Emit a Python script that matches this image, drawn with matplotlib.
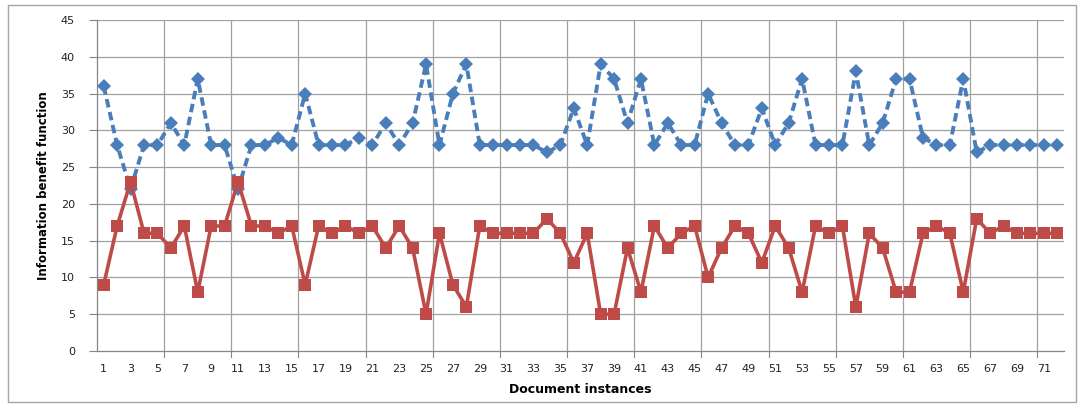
import matplotlib.pyplot as plt
from matplotlib.patches import Rectangle
import numpy as np

# values
instances = list(range(1, 73))
blue_vals = [36, 28, 22, 28, 28, 31, 28, 37, 28, 28,
             22, 28, 28, 29, 28, 35, 28, 28, 28, 29,
             28, 31, 28, 31, 39, 28, 35, 39, 28, 28,
             28, 28, 28, 27, 28, 33, 28, 39, 37, 31,
             37, 28, 31, 28, 28, 35, 31, 28, 28, 33,
             28, 31, 37, 28, 28, 28, 38, 28, 31, 37,
             37, 29, 28, 28, 37, 27, 28, 28, 28, 28,
             28, 28]
red_vals = [9, 17, 23, 16, 16, 14, 17, 8, 17, 17,
            23, 17, 17, 16, 17, 9, 17, 16, 17, 16,
            17, 14, 17, 14, 5, 16, 9, 6, 17, 16,
            16, 16, 16, 18, 16, 12, 16, 5, 5, 14,
            8, 17, 14, 16, 17, 10, 14, 17, 16, 12,
            17, 14, 8, 17, 16, 17, 6, 16, 14, 8,
            8, 16, 17, 16, 8, 18, 16, 17, 16, 16,
            16, 16]
y_ticks = list(range(0, 50, 5))
x_labels = list(range(1, 73, 2))

fig = plt.figure(figsize=(10.81, 4.07), dpi=100)
fig.patches.append(Rectangle((8 / 1081, 5 / 407), 1068 / 1081, 397 / 407,
                             transform=fig.transFigure, fill=False,
                             edgecolor='#a6a6a6', linewidth=1))

ax = fig.add_axes([97 / 1081, 56 / 407, 967 / 1081, 331 / 407])

ax.plot(instances, blue_vals, color='#4a7ebb', linestyle=(0, (2.2, 1.2)), linewidth=2.8,
        marker='D', markersize=7, markeredgewidth=0, zorder=3)
ax.plot(instances, red_vals, color='#be4b48', linestyle='-', linewidth=2.6,
        marker='s', markersize=8.5, markeredgewidth=0, zorder=4)

ax.set_xlim(0.5, 72.5)
ax.set_ylim(0, 45)
ax.set_yticks(y_ticks)
ax.set_yticklabels([str(v) for v in y_ticks], fontsize=8, color='#222222')
ax.set_xticks(x_labels)
ax.set_xticklabels([str(v) for v in x_labels], fontsize=8, color='#222222')
ax.tick_params(axis='x', length=0, pad=9)
ax.tick_params(axis='y', length=6, width=0.8, color='#868686', pad=10)

# gridlines: horizontal at every y tick, vertical every 5 categories
for y in y_ticks[1:]:
    ax.axhline(y, color='#a0a0a0', linewidth=0.9, zorder=1)
for xb in np.arange(5.5, 72, 5):
    ax.axvline(xb, color='#a0a0a0', linewidth=0.9, zorder=1)
    ax.plot([xb, xb], [0, -0.8], color='#868686', linewidth=0.8, clip_on=False)

for side in ['top', 'right']:
    ax.spines[side].set_visible(False)
for side in ['left', 'bottom']:
    ax.spines[side].set_color('#868686')
    ax.spines[side].set_linewidth(0.9)

ax.set_xlabel('Document instances', fontsize=9, fontweight='bold', labelpad=7)
ax.set_ylabel('Information benefit function', fontsize=8.5, fontweight='bold',
              fontfamily='Liberation Sans Narrow', labelpad=8)

fig.savefig('out.png', dpi=100)
